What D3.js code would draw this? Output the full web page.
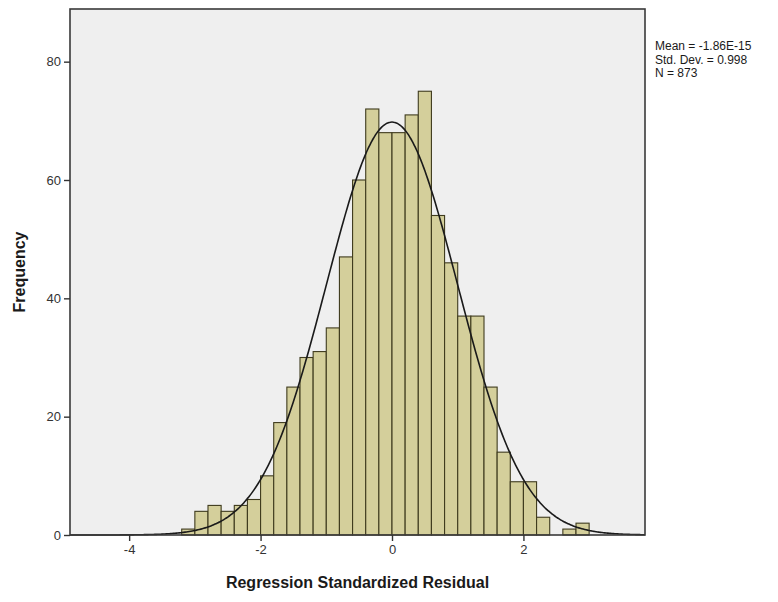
<!DOCTYPE html>
<html>
<head>
<meta charset="utf-8">
<script src="https://cdn.jsdelivr.net/npm/d3@7"></script>
<style>
  html, body { margin: 0; padding: 0; background: #ffffff; }
  svg { display: block; font-family: "Liberation Sans", Arial, sans-serif; }
</style>
</head>
<body>
<svg id="chart" width="778" height="602"></svg>
<script>
// Histogram bins: left edges of 0.2-wide bins of the standardized residuals
const binStarts = [-3.2, -3.0, -2.8, -2.6, -2.4, -2.2, -2.0, -1.8, -1.6, -1.4,
                   -1.2, -1.0, -0.8, -0.6, -0.4, -0.2, 0.0, 0.2, 0.4, 0.6,
                   0.8, 1.0, 1.2, 1.4, 1.6, 1.8, 2.0, 2.2, 2.4, 2.6, 2.8];
const frequencies = [1, 4, 5, 4, 5, 6, 10, 19, 25, 30,
                     31, 35, 47, 60, 72, 68, 68, 71, 75, 54,
                     46, 37, 37, 25, 14, 9, 9, 3, 0, 1, 2];
const binWidth = 0.2;

const xTicks = [-4, -2, 0, 2];
const yTicks = [0, 20, 40, 60, 80];

// Summary statistics of the residuals (drive the fitted normal curve)
const statMean = -1.86e-15;
const statSD = 0.998;
const statN = 873;
const statLines = ["Mean = -1.86E-15", "Std. Dev. = 0.998", "N = 873"];

const svg = d3.select("#chart");
const plot = { left: 70, right: 645, top: 9, bottom: 535 };

const x = d3.scaleLinear().domain([-4.9, 3.85]).range([plot.left, plot.right]);
const y = d3.scaleLinear().domain([0, 88.9]).range([plot.bottom, plot.top]);

// Plot background
svg.append("rect")
  .attr("x", plot.left).attr("y", plot.top)
  .attr("width", plot.right - plot.left).attr("height", plot.bottom - plot.top)
  .attr("fill", "#efefef");

// Bars
const bins = binStarts.map((s, i) => ({ x0: s, x1: s + binWidth, f: frequencies[i] }));
svg.append("g").selectAll("rect")
  .data(bins.filter(d => d.f > 0))
  .join("rect")
  .attr("x", d => x(d.x0))
  .attr("y", d => y(d.f))
  .attr("width", d => x(d.x1) - x(d.x0))
  .attr("height", d => y(0) - y(d.f))
  .attr("fill", "#d4cf9b")
  .attr("stroke", "#3f3b1e")
  .attr("stroke-width", 1.1);

// Fitted normal curve scaled to counts per bin
const [dMin, dMax] = x.domain();
const curvePts = d3.range(0, 401).map(i => {
  const v = dMin + (dMax - dMin) * i / 400;
  const z = (v - statMean) / statSD;
  return [v, statN * binWidth * Math.exp(-0.5 * z * z) / (statSD * Math.sqrt(2 * Math.PI))];
});
svg.append("path")
  .datum(curvePts)
  .attr("fill", "none")
  .attr("stroke", "#1a1a1a")
  .attr("stroke-width", 1.6)
  .attr("d", d3.line().x(d => x(d[0])).y(d => y(d[1])).curve(d3.curveBasis));

// Frame
svg.append("rect")
  .attr("x", plot.left).attr("y", plot.top)
  .attr("width", plot.right - plot.left).attr("height", plot.bottom - plot.top)
  .attr("fill", "none")
  .attr("stroke", "#3a3a3a")
  .attr("stroke-width", 1.6);

// Axes (plain hyphen for negative tick labels)
const fmt = d => String(d);
const xAxis = svg.append("g")
  .attr("transform", `translate(0,${plot.bottom})`)
  .call(d3.axisBottom(x).tickValues(xTicks).tickSize(6).tickPadding(4).tickFormat(fmt));
const yAxis = svg.append("g")
  .attr("transform", `translate(${plot.left},0)`)
  .call(d3.axisLeft(y).tickValues(yTicks).tickSize(6).tickPadding(3).tickFormat(fmt));
[xAxis, yAxis].forEach(g => {
  g.select(".domain").remove();
  g.selectAll(".tick line").attr("stroke", "#333").attr("stroke-width", 1.4);
  g.selectAll(".tick text")
    .attr("fill", "#333")
    .style("font-size", "13px")
    .style("font-family", "'Liberation Sans', Arial, sans-serif");
});

// Axis titles
svg.append("text")
  .attr("x", (plot.left + plot.right) / 2)
  .attr("y", 588)
  .attr("text-anchor", "middle")
  .attr("fill", "#1a1a1a")
  .style("font-size", "16px")
  .style("font-weight", "bold")
  .text("Regression Standardized Residual");

svg.append("text")
  .attr("transform", `translate(25,${(plot.top + plot.bottom) / 2}) rotate(-90)`)
  .attr("text-anchor", "middle")
  .attr("fill", "#1a1a1a")
  .style("font-size", "16px")
  .style("font-weight", "bold")
  .text("Frequency");

// Summary statistics
svg.append("g").selectAll("text")
  .data(statLines)
  .join("text")
  .attr("x", 655)
  .attr("y", (d, i) => 50 + i * 13.5)
  .attr("fill", "#1a1a1a")
  .style("font-size", "12px")
  .text(d => d);
</script>
</body>
</html>
